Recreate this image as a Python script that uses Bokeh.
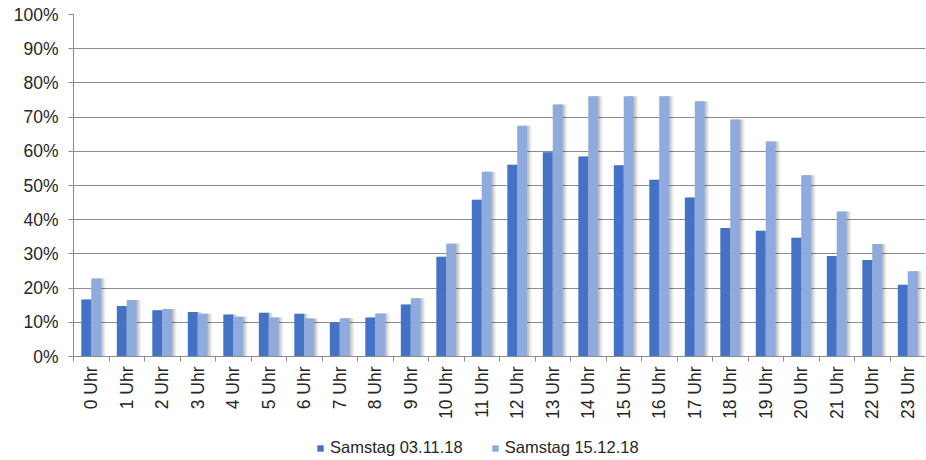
from bokeh.plotting import figure
from bokeh.models import ColumnDataSource, FixedTicker, PrintfTickFormatter, Legend, LegendItem, Range1d
from bokeh.layouts import column
from bokeh.transform import dodge
from bokeh.embed import file_html
from bokeh.resources import INLINE
import math

hours = [f"{i} Uhr" for i in range(24)]
series_names = ["Samstag 03.11.18", "Samstag 15.12.18"]
samstag_03_11 = [16.7, 14.8, 13.5, 13.0, 12.3, 12.8, 12.5, 10.0, 11.4, 15.2, 29.2, 45.8,
                 56.1, 59.7, 58.5, 55.9, 51.7, 46.5, 37.6, 36.8, 34.7, 29.4, 28.2, 21.0]
samstag_15_12 = [22.8, 16.5, 13.9, 12.5, 11.6, 11.4, 11.1, 11.2, 12.6, 17.0, 33.0, 54.0,
                 67.5, 73.7, 76.1, 76.1, 76.1, 74.6, 69.3, 62.9, 53.0, 42.4, 32.9, 24.9]
y_ticks = [0, 10, 20, 30, 40, 50, 60, 70, 80, 90, 100]

idx = list(range(len(hours)))
src = ColumnDataSource(dict(x=idx, a=samstag_03_11, b=samstag_15_12))

DARK = "#4472C4"
LIGHT = "#8FAADC"
FONT = "Liberation Sans"
TXT = "#262626"
GRID = "#8c8c8c"
FS = "17.5px"

p = figure(frame_width=852, frame_height=342, output_backend="svg", toolbar_location=None,
           x_range=Range1d(-0.5, len(hours) - 0.5), y_range=Range1d(0, 100),
           min_border_left=73, min_border_right=0, min_border_top=14, min_border_bottom=70)
p.outline_line_color = None
p.background_fill_color = "white"
p.border_fill_color = "white"

# soft shadows
for off, alpha in [(0.05, 0.11), (0.09, 0.08), (0.13, 0.05)]:
    p.vbar(x=dodge("x", -0.14 + off), top="a", width=0.28, bottom=0, source=src,
           fill_color="black", fill_alpha=alpha, line_color=None)
    p.vbar(x=dodge("x", 0.14 + off), top="b", width=0.28, bottom=0, source=src,
           fill_color="black", fill_alpha=alpha, line_color=None)

p.vbar(x=dodge("x", -0.14), top="a", width=0.28, bottom=0, source=src,
       fill_color=DARK, line_color=None)
p.vbar(x=dodge("x", 0.14), top="b", width=0.28, bottom=0, source=src,
       fill_color=LIGHT, line_color=None)

# x axis
p.xaxis.ticker = FixedTicker(ticks=idx, minor_ticks=[i - 0.5 for i in range(len(hours) + 1)])
p.xaxis.major_label_overrides = {i: h for i, h in zip(idx, hours)}
p.xaxis.major_label_orientation = math.pi / 2
p.xaxis.major_tick_line_color = None
p.xaxis.minor_tick_line_color = GRID
p.xaxis.minor_tick_out = 5
p.xaxis.minor_tick_in = 0
p.xaxis.axis_line_color = GRID
p.xaxis.major_label_text_font = FONT
p.xaxis.major_label_text_font_size = FS
p.xaxis.major_label_text_color = TXT
p.xaxis.major_label_standoff = 4

# y axis
p.yaxis.ticker = FixedTicker(ticks=y_ticks)
p.yaxis.formatter = PrintfTickFormatter(format="%d%%")
p.yaxis.major_tick_line_color = GRID
p.yaxis.major_tick_out = 5
p.yaxis.major_tick_in = 0
p.yaxis.minor_tick_line_color = None
p.yaxis.axis_line_color = GRID
p.yaxis.major_label_text_font = FONT
p.yaxis.major_label_text_font_size = FS
p.yaxis.major_label_text_color = TXT
p.yaxis.major_label_standoff = 10

p.xgrid.grid_line_color = None
p.ygrid.ticker = FixedTicker(ticks=y_ticks)
p.ygrid.grid_line_color = GRID
p.ygrid.grid_line_width = 1

# legend strip (its bars lie far outside its own ranges, only the swatches show)
leg = figure(width=925, height=34, output_backend="svg", toolbar_location=None,
             x_axis_type=None, y_axis_type=None, min_border=0,
             x_range=Range1d(-1000, -999), y_range=Range1d(-1000, -999))
leg.outline_line_color = None
leg.grid.visible = False
d1 = leg.vbar(x="x", top="a", width=0.28, bottom=0, source=src, fill_color=DARK, line_color=None)
d2 = leg.vbar(x="x", top="b", width=0.28, bottom=0, source=src, fill_color=LIGHT, line_color=None)
legend = Legend(items=[LegendItem(label=series_names[0], renderers=[d1]),
                       LegendItem(label=series_names[1], renderers=[d2])],
                orientation="horizontal", location=(243, 3),
                glyph_width=8, glyph_height=8, label_standoff=6, spacing=28,
                padding=0, margin=0, border_line_color=None, background_fill_alpha=0,
                label_text_font=FONT, label_text_font_size="16.5px", label_text_color=TXT)
leg.add_layout(legend, "center")

layout = column(p, leg, spacing=0)
open("out.html", "w").write(file_html(layout, INLINE))
